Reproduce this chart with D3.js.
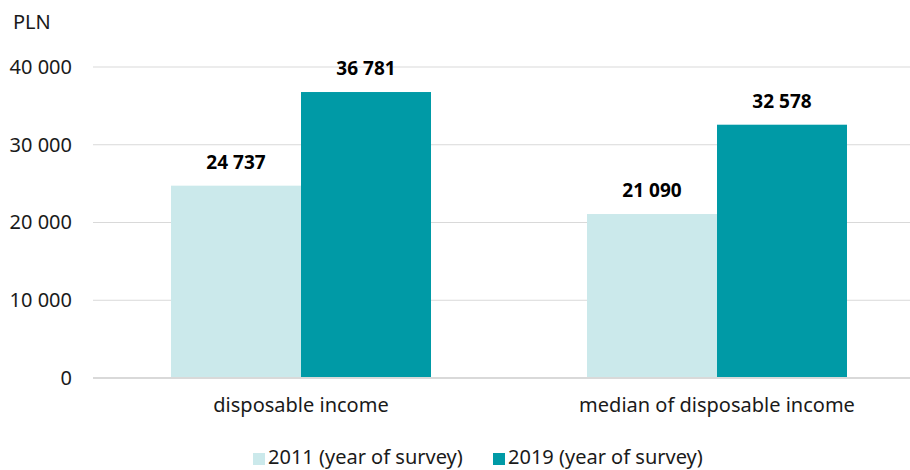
<!DOCTYPE html>
<html><head><meta charset="utf-8">
<script src="https://cdn.jsdelivr.net/npm/d3@7"></script>
<style>
html,body{margin:0;padding:0;background:#fff;}
svg{display:block;font-family:"Noto Sans",sans-serif;}
</style></head>
<body><svg id="c" width="910" height="470"></svg>
<script>
const categories = ["disposable income", "median of disposable income"];
const seriesNames = ["2011 (year of survey)", "2019 (year of survey)"];
const values2011 = [24737, 21090];
const values2019 = [36781, 32578];
const yTicks = [0, 10000, 20000, 30000, 40000];
const colors = ["#cbe9eb", "#009aa6"];
const unitLabel = "PLN";

const svg = d3.select("#c");
const x = d3.scaleBand().domain(categories).range([93, 925]).paddingInner(0.375).paddingOuter(0.1875);
const xs = d3.scaleBand().domain(seriesNames).range([0, x.bandwidth()]);
const y = d3.scaleLinear().domain([0, 40000]).range([378, 67]);
const fmt = v => d3.format(",")(v).replace(/,/g, " ");

// gridlines
svg.append("g").selectAll("line").data(yTicks.filter(t => t > 0)).join("line")
  .attr("x1", 93).attr("x2", 910).attr("y1", d => y(d)).attr("y2", d => y(d))
  .attr("stroke", "#d9d9d9").attr("stroke-width", 1);

// y axis labels
const yAxis = d3.axisLeft(y).tickValues(yTicks).tickFormat(fmt).tickSize(0).tickPadding(0);
const ga = svg.append("g").attr("transform", "translate(72,0)").call(yAxis);
ga.select(".domain").remove();
ga.selectAll("text").attr("font-size", 20).attr("fill", "#1a1a1a").attr("font-family", "Noto Sans");

svg.append("text").attr("x", 13).attr("y", 29).attr("font-size", 20).attr("fill", "#1a1a1a").text(unitLabel);

const series = [values2011, values2019];
const data = [];
categories.forEach((c, i) => seriesNames.forEach((s, j) => data.push({c, s, j, v: series[j][i]})));

svg.append("g").selectAll("rect").data(data).join("rect")
  .attr("x", d => x(d.c) + xs(d.s)).attr("width", xs.bandwidth())
  .attr("y", d => y(d.v)).attr("height", d => y(0) - y(d.v))
  .attr("fill", d => colors[d.j]);

// baseline
svg.append("line").attr("x1", 93).attr("x2", 910).attr("y1", y(0)).attr("y2", y(0))
  .attr("stroke", "#d9d9d9").attr("stroke-width", 2);

// value labels
svg.append("g").selectAll("text").data(data).join("text")
  .attr("x", d => x(d.c) + xs(d.s) + xs.bandwidth() / 2)
  .attr("y", d => y(d.v) - 17)
  .attr("text-anchor", "middle").attr("font-size", 19).attr("font-weight", "bold").attr("fill", "#000")
  .text(d => fmt(d.v));

// x axis
const xAxis = d3.axisBottom(x).tickSize(0).tickPadding(0);
const gx = svg.append("g").attr("transform", "translate(0,412)").call(xAxis);
gx.select(".domain").remove();
gx.selectAll("text").attr("font-size", 20).attr("fill", "#1a1a1a").attr("font-family", "Noto Sans").attr("dy", 0).attr("y", 0);

// legend
const legX = [253, 493];
const lg = svg.append("g").selectAll("g").data(seriesNames).join("g")
  .attr("transform", (d, i) => `translate(${legX[i]},0)`);
lg.append("rect").attr("x", 0).attr("y", 453).attr("width", 12).attr("height", 12).attr("fill", (d, i) => colors[i]);
lg.append("text").attr("x", 15).attr("y", 464).attr("font-size", 20).attr("fill", "#1a1a1a").text(d => d);
</script></body></html>
